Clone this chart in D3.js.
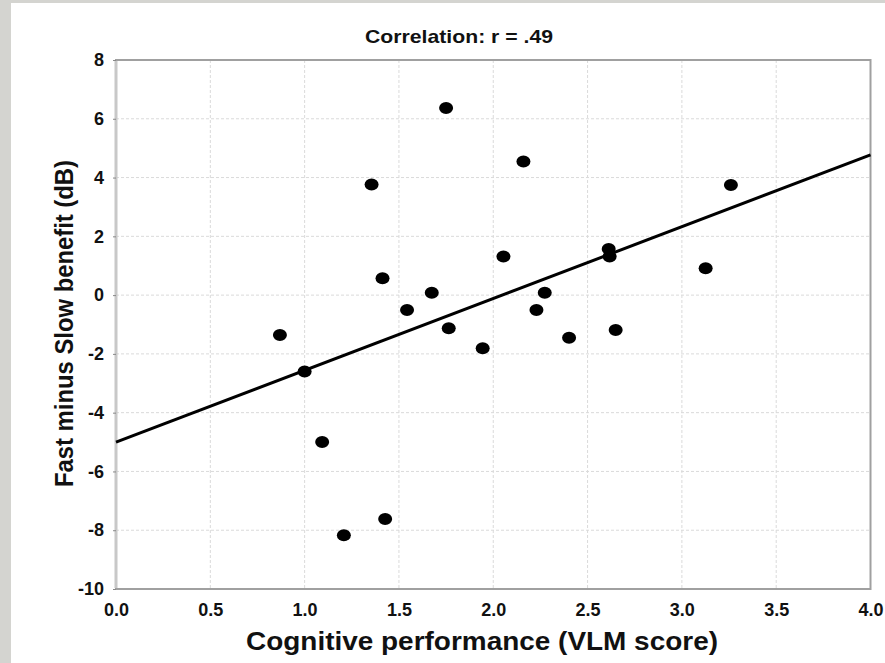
<!DOCTYPE html>
<html>
<head>
<meta charset="utf-8">
<script src="https://cdn.jsdelivr.net/npm/d3@7"></script>
<style>
  html, body { margin: 0; padding: 0; background: #d4d4d0; }
  svg { display: block; font-family: "Liberation Sans", Arial, sans-serif; }
</style>
</head>
<body>
<svg id="chart" width="885" height="663"></svg>
<script>
// valores (VLM score vs. beneficio Fast - Slow en dB)
const vlmScore = [1.75, 2.16, 1.355, 3.26, 2.612, 2.617, 2.054, 1.413, 3.126, 1.674, 2.273,
  1.543, 2.229, 1.764, 2.649, 2.402, 1.944, 0.869, 1.0, 1.093, 1.427, 1.208];
const benefitDb = [6.37, 4.55, 3.76, 3.75, 1.57, 1.31, 1.31, 0.57, 0.91, 0.08, 0.08,
  -0.51, -0.51, -1.13, -1.19, -1.45, -1.81, -1.36, -2.6, -5.0, -7.62, -8.17];
// recta de regresión tal como aparece dibujada
const fitLine = [{ x: 0, y: -5.0 }, { x: 4, y: 4.77 }];
const xTicks = [0, 0.5, 1, 1.5, 2, 2.5, 3, 3.5, 4];
const yTicks = [-10, -8, -6, -4, -2, 0, 2, 4, 6, 8];

const titleText = 'Correlation: r = .49';
const xTitle = 'Cognitive performance (VLM score)';
const yTitle = 'Fast minus Slow benefit (dB)';

const svg = d3.select('#chart');
const margin = { top: 60, right: 14, bottom: 74, left: 116 };
const width = 885, height = 663;

// panel blanco sobre el fondo gris
svg.append('rect').attr('x', 11).attr('y', 3).attr('width', width - 11).attr('height', height - 3).attr('fill', '#fff');

const x = d3.scaleLinear().domain([0, 4]).range([margin.left, width - margin.right - 0.5]);
const y = d3.scaleLinear().domain([-10, 8]).range([height - margin.bottom, margin.top]);

const points = vlmScore.map((v, i) => ({ x: v, y: benefitDb[i] }));

// rejilla punteada
const grid = svg.append('g').attr('stroke', '#dadada').attr('stroke-width', 1).attr('stroke-dasharray', '3,2');
grid.selectAll('line.gx').data(xTicks.slice(1, -1)).join('line')
  .attr('class', 'gx')
  .attr('x1', (d) => x(d)).attr('x2', (d) => x(d))
  .attr('y1', y(8)).attr('y2', y(-10));
grid.selectAll('line.gy').data(yTicks.slice(1, -1)).join('line')
  .attr('class', 'gy')
  .attr('x1', x(0)).attr('x2', x(4))
  .attr('y1', (d) => y(d)).attr('y2', (d) => y(d));

// marco del área de dibujo (el borde izquierdo es más claro y grueso)
svg.append('rect')
  .attr('x', x(0)).attr('y', y(8))
  .attr('width', x(4) - x(0)).attr('height', y(-10) - y(8))
  .attr('fill', 'none').attr('stroke', '#a0a0a0').attr('stroke-width', 2);
svg.append('line')
  .attr('x1', x(0)).attr('x2', x(0)).attr('y1', y(8) + 1).attr('y2', y(-10) - 1)
  .attr('stroke', '#c8c8c8').attr('stroke-width', 3);

// ejes: solo etiquetas y marcas cortas
const xAxis = svg.append('g').attr('transform', `translate(0,${y(-10)})`)
  .call(d3.axisBottom(x).tickValues(xTicks).tickFormat(d3.format('.1f')).tickSize(0).tickPadding(14));
const yAxis = svg.append('g').attr('transform', `translate(${x(0)},0)`)
  .call(d3.axisLeft(y).tickValues(yTicks).tickFormat((d) => d).tickSize(3).tickPadding(9));
xAxis.selectAll('text').attr('font-size', 18);
yAxis.selectAll('text').attr('font-size', 18);
[xAxis, yAxis].forEach((g) => {
  g.select('.domain').remove();
  g.selectAll('line').attr('stroke', '#888');
  g.selectAll('text').attr('font-weight', 'bold').attr('fill', '#111')
    .attr('font-family', '"Liberation Sans", Arial, sans-serif');
});

// recta de ajuste
svg.append('path')
  .datum(fitLine)
  .attr('fill', 'none').attr('stroke', '#000').attr('stroke-width', 3)
  .attr('d', d3.line().x((d) => x(d.x)).y((d) => y(d.y)));

// puntos
svg.append('g').selectAll('ellipse').data(points).join('ellipse')
  .attr('cx', (d) => x(d.x)).attr('cy', (d) => y(d.y))
  .attr('rx', 7).attr('ry', 6)
  .attr('fill', '#000');

// títulos (textLength para igualar el ancho del original)
svg.append('text')
  .attr('x', 459).attr('y', 43)
  .attr('text-anchor', 'middle').attr('font-size', 19).attr('font-weight', 'bold').attr('fill', '#111')
  .attr('textLength', 188).attr('lengthAdjust', 'spacingAndGlyphs')
  .text(titleText);
svg.append('text')
  .attr('x', 482).attr('y', 650)
  .attr('text-anchor', 'middle').attr('font-size', 25).attr('font-weight', 'bold').attr('fill', '#111')
  .attr('textLength', 472).attr('lengthAdjust', 'spacingAndGlyphs')
  .text(xTitle);
svg.append('text')
  .attr('transform', `translate(73,${(160 + 487) / 2}) rotate(-90)`)
  .attr('text-anchor', 'middle').attr('font-size', 25).attr('font-weight', 'bold').attr('fill', '#111')
  .attr('textLength', 327).attr('lengthAdjust', 'spacingAndGlyphs')
  .text(yTitle);
</script>
</body>
</html>
